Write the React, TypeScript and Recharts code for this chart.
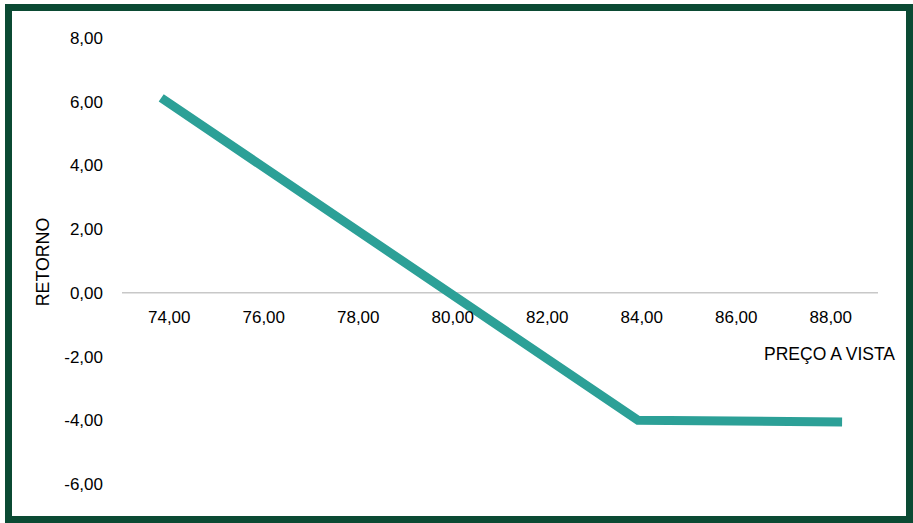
import React from "react";
import { LineChart, Line, XAxis, YAxis, ReferenceLine, ReferenceDot } from "recharts";

// preço à vista (x) x retorno (y)
const precos = [73.83, 83.92, 88.24];
const retornos = [6.12, -4.0, -4.05];
const xTicks = [74, 76, 78, 80, 82, 84, 86, 88];
const yTicks = [-6, -4, -2, 0, 2, 4, 6, 8];

const data = precos.map((p, i) => ({ preco: p, retorno: retornos[i] }));

const fmt = (v: number) => v.toFixed(2).replace(".", ",");
const FONT = "'Liberation Sans', Arial, sans-serif";

const XTickLabel = (props: any) => {
  const { cx, cy, label } = props;
  if (cx == null || cy == null) return null;
  return (
    <text x={cx} y={cy + 30} textAnchor="middle" fontSize={17} fontFamily={FONT} fill="#000">
      {label}
    </text>
  );
};

export default function App() {
  return (
    <div style={{ position: "absolute", left: 0, top: 0, width: 913, height: 523, background: "#fff" }}>
      <div
        style={{
          position: "absolute",
          left: 5,
          top: 4,
          width: 908,
          height: 519,
          boxSizing: "border-box",
          border: "7px solid #0b4a33",
        }}
      />
      <div style={{ position: "absolute", left: 0, top: 0 }}>
        <LineChart width={913} height={523} data={data} margin={{ top: 38, right: 35, bottom: 39, left: 0 }}>
          <XAxis dataKey="preco" type="number" domain={[73, 89]} ticks={xTicks} hide />
          <YAxis
            type="number"
            domain={[-6, 8]}
            ticks={yTicks}
            width={122}
            axisLine={false}
            tickLine={false}
            tickSize={0}
            tickMargin={19}
            tickFormatter={fmt}
            tick={{ fontSize: 17, fontFamily: FONT, fill: "#000" }}
          />
          <ReferenceLine y={0} stroke="#c8c8c8" strokeWidth={1.5} />
          {xTicks.map((t) => (
            <ReferenceDot
              key={t}
              x={t}
              y={0}
              r={0}
              ifOverflow="visible"
              shape={(p: any) => <XTickLabel {...p} label={fmt(t)} />}
            />
          ))}
          <Line
            type="linear"
            dataKey="retorno"
            stroke="#2ca097"
            strokeWidth={9}
            dot={false}
            activeDot={false}
            isAnimationActive={false}
          />
        </LineChart>
      </div>
      <svg
        width={913}
        height={523}
        style={{ position: "absolute", left: 0, top: 0, pointerEvents: "none" }}
      >
        <text
          transform="translate(48.5,262) rotate(-90)"
          textAnchor="middle"
          fontSize={17.8}
          fontFamily={FONT}
          fill="#000"
        >
          RETORNO
        </text>
        <text x={895} y={359.5} textAnchor="end" fontSize={17.5} fontFamily={FONT} fill="#000">
          PREÇO A VISTA
        </text>
      </svg>
    </div>
  );
}
